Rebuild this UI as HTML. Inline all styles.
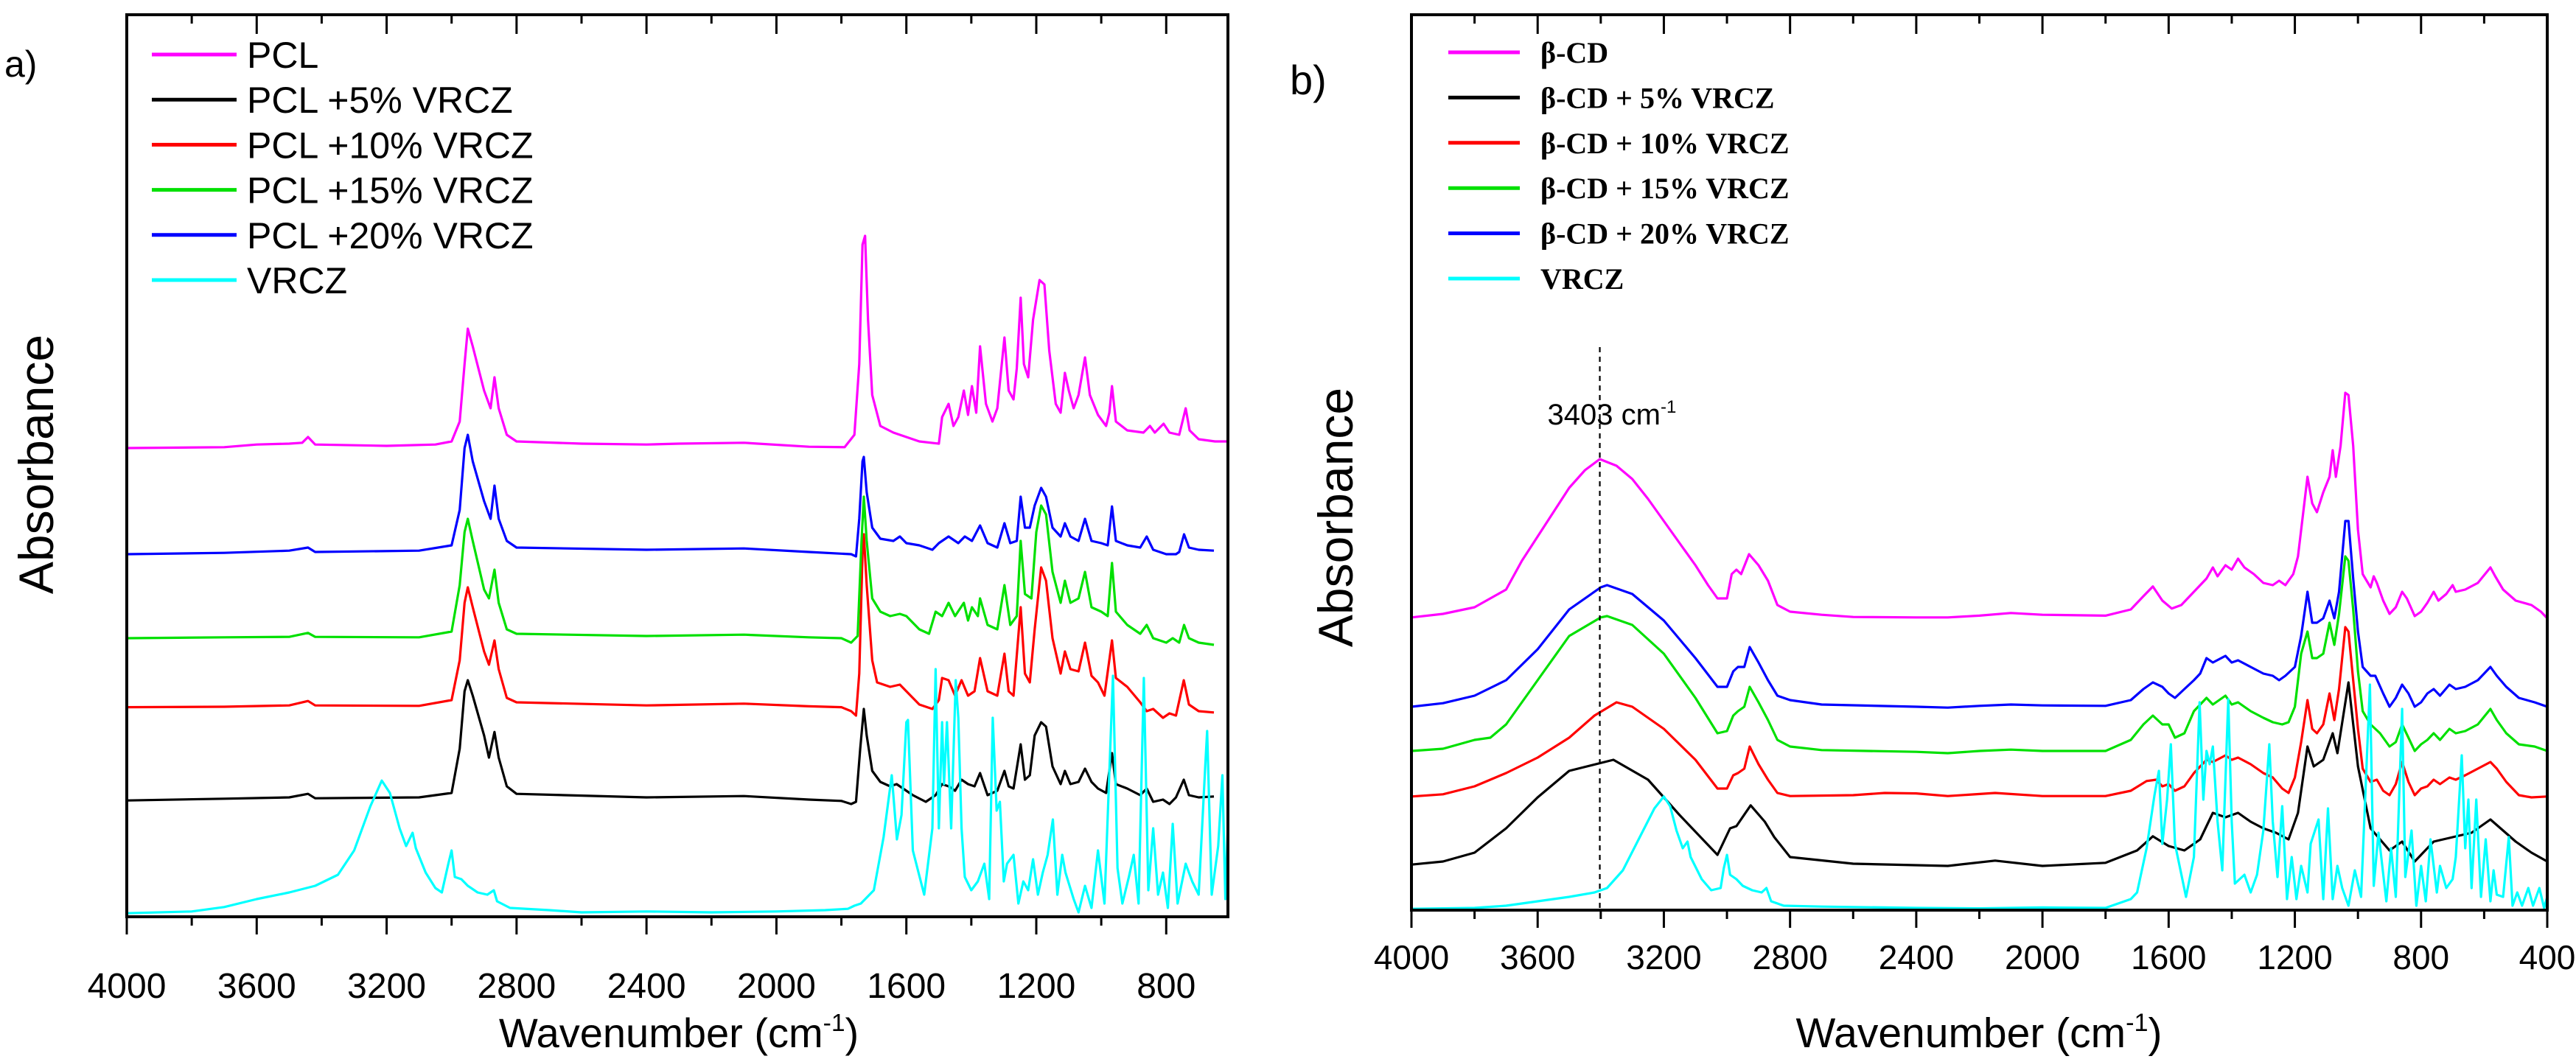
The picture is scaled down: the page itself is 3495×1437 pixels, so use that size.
<!DOCTYPE html>
<html><head><meta charset="utf-8">
<style>
html,body{margin:0;padding:0;background:#fff;}
svg{display:block;}
text{font-family:"Liberation Sans",sans-serif;fill:#000;}
.serif{font-family:"Liberation Serif",serif;font-weight:bold;}
</style></head>
<body>
<svg id="chart" width="3495" height="1437" viewBox="0 0 3495 1437" xmlns="http://www.w3.org/2000/svg">
<defs>
<clipPath id="clipA"><rect x="172" y="20" width="1494" height="1224"/></clipPath>
<clipPath id="clipB"><rect x="1915" y="20" width="1541" height="1215"/></clipPath>
</defs>
<g id="panelA"></g>
<g id="panelB"></g>
</svg>
<script>
// ---------- Panel a data: [wavenumber, absorbance(a.u.)] ----------
const ticksA = [4000,3600,3200,2800,2400,2000,1600,1200,800];
const ticksB = [4000,3600,3200,2800,2400,2000,1600,1200,800,400];
const namesA = ["PCL","PCL +5%  VRCZ","PCL +10%  VRCZ","PCL +15%  VRCZ","PCL +20%  VRCZ","VRCZ"];
const namesB = ["\u03b2-CD","\u03b2-CD + 5% VRCZ","\u03b2-CD + 10% VRCZ","\u03b2-CD + 15% VRCZ","\u03b2-CD + 20% VRCZ","VRCZ"];
const colors = ["#ff00ff","#000000","#ff0000","#00e000","#0000ff","#00ffff"];

const pclA = [[4000,10.6],[3700,10.62],[3600,10.68],[3500,10.7],[3460,10.72],[3442,10.85],[3420,10.68],[3200,10.65],[3050,10.68],[3000,10.75],[2975,11.2],[2960,12.5],[2950,13.3],[2935,12.9],[2900,11.9],[2880,11.5],[2868,12.2],[2855,11.5],[2830,10.9],[2800,10.75],[2600,10.7],[2400,10.68],[2300,10.7],[2100,10.72],[1900,10.63],[1790,10.62],[1760,10.9],[1745,12.5],[1735,15.2],[1727,15.4],[1718,13.5],[1705,11.8],[1680,11.1],[1640,10.95],[1560,10.75],[1500,10.7],[1490,11.3],[1470,11.6],[1455,11.1],[1440,11.3],[1423,11.9],[1410,11.35],[1398,12.0],[1385,11.4],[1373,12.9],[1355,11.6],[1335,11.2],[1320,11.5],[1298,13.1],[1285,11.9],[1270,11.7],[1260,12.4],[1248,14.0],[1238,12.5],[1225,12.2],[1210,13.5],[1190,14.4],[1175,14.3],[1160,12.8],[1140,11.6],[1125,11.4],[1112,12.3],[1100,11.9],[1085,11.5],[1070,11.8],[1050,12.65],[1035,11.8],[1010,11.35],[985,11.1],[975,11.4],[967,12.0],[955,11.2],[920,11.0],[870,10.95],[850,11.1],[835,10.95],[808,11.15],[790,10.95],[760,10.9],[740,11.5],[728,11.0],[700,10.8],[650,10.75],[610,10.75]];
const pcl5A = [[4000,2.63],[3700,2.67],[3500,2.7],[3442,2.78],[3420,2.68],[3100,2.7],[3000,2.8],[2975,3.8],[2960,5.1],[2950,5.35],[2935,5.0],[2900,4.1],[2885,3.6],[2868,4.18],[2855,3.6],[2830,2.95],[2800,2.78],[2400,2.7],[2100,2.73],[1900,2.65],[1800,2.62],[1770,2.55],[1755,2.6],[1742,3.8],[1731,4.7],[1722,4.1],[1705,3.3],[1680,3.05],[1650,2.95],[1630,3.0],[1610,2.9],[1580,2.75],[1540,2.6],[1510,2.75],[1490,3.0],[1470,2.95],[1450,2.85],[1430,3.1],[1410,3.0],[1390,2.95],[1373,3.25],[1350,2.75],[1320,2.85],[1298,3.3],[1285,2.95],[1270,2.9],[1248,3.9],[1235,3.1],[1220,3.2],[1205,4.1],[1185,4.4],[1170,4.3],[1150,3.4],[1125,3.0],[1112,3.3],[1095,3.0],[1070,3.05],[1050,3.35],[1030,3.05],[1010,2.9],[985,2.8],[967,3.7],[955,3.0],[920,2.9],[880,2.75],[860,2.9],[840,2.6],[810,2.65],[790,2.55],[770,2.7],[746,3.1],[730,2.75],[700,2.7],[653,2.72]];
const pcl10A = [[4000,4.74],[3700,4.75],[3500,4.78],[3442,4.88],[3420,4.78],[3100,4.77],[3000,4.9],[2975,5.8],[2960,7.1],[2950,7.45],[2935,7.0],[2900,6.0],[2885,5.7],[2868,6.25],[2855,5.6],[2830,4.95],[2800,4.85],[2400,4.78],[2100,4.82],[1900,4.76],[1800,4.74],[1770,4.65],[1755,4.55],[1745,5.5],[1735,8.2],[1731,8.65],[1722,7.5],[1705,5.8],[1690,5.3],[1650,5.2],[1620,5.25],[1600,5.1],[1560,4.8],[1520,4.7],[1500,4.9],[1490,5.4],[1470,5.35],[1450,5.0],[1430,5.35],[1410,5.0],[1390,5.1],[1373,5.85],[1350,5.1],[1320,5.0],[1298,5.95],[1285,5.1],[1270,5.0],[1248,7.0],[1235,5.5],[1220,5.3],[1205,6.5],[1185,7.9],[1170,7.6],[1150,6.3],[1125,5.5],[1112,6.0],[1095,5.6],[1070,5.55],[1050,6.2],[1030,5.45],[1010,5.3],[990,5.0],[967,6.25],[955,5.4],[920,5.2],[880,4.85],[860,4.65],[840,4.7],[810,4.5],[790,4.6],[770,4.55],[746,5.35],[730,4.8],[700,4.65],[653,4.62]];
const pcl15A = [[4000,6.3],[3700,6.32],[3500,6.33],[3442,6.42],[3420,6.33],[3100,6.32],[3000,6.45],[2975,7.5],[2960,8.7],[2950,9.0],[2935,8.5],[2900,7.4],[2885,7.2],[2868,7.85],[2855,7.1],[2830,6.5],[2800,6.4],[2400,6.35],[2100,6.38],[1900,6.32],[1800,6.3],[1770,6.2],[1750,6.35],[1738,8.5],[1731,9.5],[1722,8.5],[1705,7.2],[1680,6.9],[1650,6.8],[1620,6.85],[1600,6.8],[1560,6.5],[1530,6.4],[1510,6.9],[1490,6.8],[1470,7.1],[1450,6.8],[1423,7.1],[1410,6.7],[1398,7.0],[1380,6.8],[1373,7.2],[1350,6.6],[1320,6.5],[1298,7.5],[1280,6.6],[1260,6.8],[1248,8.5],[1235,7.3],[1215,7.2],[1200,8.7],[1185,9.3],[1170,9.1],[1150,7.8],[1125,7.1],[1112,7.6],[1095,7.1],[1070,7.2],[1050,7.8],[1030,7.0],[1000,6.9],[980,6.8],[967,8.0],[955,6.9],[920,6.6],[880,6.4],[860,6.6],[840,6.3],[800,6.2],[780,6.3],[760,6.2],[745,6.6],[730,6.3],[700,6.2],[653,6.15]];
const pcl20A = [[4000,8.2],[3700,8.23],[3500,8.28],[3442,8.35],[3420,8.25],[3100,8.28],[3000,8.4],[2975,9.2],[2960,10.6],[2950,10.9],[2935,10.3],[2900,9.4],[2880,9.0],[2868,9.75],[2855,9.0],[2830,8.5],[2800,8.35],[2400,8.3],[2100,8.33],[1900,8.25],[1770,8.2],[1755,8.15],[1745,9.0],[1735,10.3],[1731,10.4],[1722,9.6],[1705,8.8],[1680,8.55],[1640,8.5],[1620,8.6],[1600,8.45],[1560,8.4],[1520,8.3],[1500,8.45],[1470,8.6],[1440,8.45],[1420,8.6],[1398,8.5],[1373,8.85],[1350,8.45],[1320,8.35],[1298,8.9],[1280,8.45],[1260,8.5],[1248,9.5],[1235,8.8],[1220,8.8],[1205,9.3],[1185,9.7],[1170,9.5],[1150,8.8],[1125,8.6],[1112,8.9],[1095,8.6],[1070,8.5],[1050,9.0],[1030,8.5],[1000,8.45],[980,8.4],[967,9.28],[955,8.5],[920,8.4],[880,8.35],[860,8.6],[840,8.3],[800,8.2],[770,8.2],[760,8.25],[745,8.65],[730,8.35],[700,8.3],[653,8.28]];
const vrczA = [[4000,0.08],[3800,0.12],[3700,0.22],[3600,0.4],[3500,0.55],[3420,0.7],[3350,0.95],[3300,1.5],[3250,2.5],[3215,3.08],[3190,2.8],[3160,2.0],[3140,1.6],[3120,1.9],[3110,1.55],[3080,1.0],[3050,0.65],[3030,0.55],[3010,1.2],[3000,1.5],[2990,0.9],[2970,0.85],[2950,0.7],[2920,0.55],[2890,0.5],[2870,0.6],[2860,0.35],[2820,0.2],[2700,0.15],[2600,0.1],[2400,0.12],[2200,0.1],[2000,0.12],[1850,0.15],[1780,0.18],[1760,0.25],[1740,0.3],[1700,0.6],[1670,1.8],[1645,3.2],[1629,1.75],[1615,2.3],[1600,4.4],[1595,4.45],[1580,1.5],[1545,0.5],[1520,2.0],[1510,5.6],[1500,2.0],[1490,4.4],[1484,3.0],[1475,4.4],[1462,2.0],[1448,5.35],[1440,4.5],[1430,2.0],[1420,0.9],[1400,0.6],[1380,0.8],[1360,1.2],[1345,0.4],[1334,4.5],[1322,2.4],[1312,2.6],[1300,0.8],[1290,1.2],[1270,1.4],[1255,0.3],[1240,0.8],[1225,0.6],[1210,1.3],[1195,0.5],[1180,1.0],[1165,1.4],[1149,2.2],[1135,0.5],[1120,1.4],[1110,1.0],[1085,0.4],[1070,0.1],[1050,0.7],[1030,0.2],[1010,1.5],[990,0.3],[964,5.45],[950,1.1],[935,0.3],[915,0.9],[900,1.4],[885,0.3],[869,5.4],[855,0.6],[840,2.0],[825,0.5],[810,1.0],[795,0.2],[780,2.1],[765,0.3],[740,1.2],[720,0.8],[700,0.5],[680,3.4],[674,4.2],[660,0.5],[640,1.6],[627,3.2],[618,0.4],[610,2.1]];

// ---------- Panel b data ----------
const bcdB = [[4000,6.62],[3900,6.7],[3800,6.85],[3700,7.25],[3650,7.9],[3600,8.45],[3500,9.55],[3450,9.95],[3403,10.2],[3350,10.05],[3300,9.75],[3250,9.3],[3200,8.8],[3150,8.3],[3100,7.8],[3060,7.35],[3030,7.05],[3000,7.05],[2985,7.6],[2970,7.7],[2955,7.6],[2930,8.05],[2900,7.8],[2870,7.45],[2840,6.9],[2800,6.75],[2700,6.68],[2600,6.63],[2400,6.62],[2300,6.62],[2200,6.66],[2100,6.72],[2000,6.68],[1800,6.66],[1720,6.8],[1680,7.1],[1650,7.32],[1620,7.0],[1590,6.82],[1560,6.9],[1520,7.2],[1480,7.5],[1460,7.75],[1445,7.55],[1420,7.8],[1400,7.7],[1380,7.95],[1360,7.75],[1330,7.6],[1300,7.4],[1270,7.35],[1250,7.45],[1230,7.35],[1205,7.6],[1190,8.0],[1170,9.2],[1160,9.8],[1145,9.2],[1130,9.0],[1110,9.45],[1090,9.8],[1080,10.4],[1070,9.8],[1055,10.5],[1040,11.7],[1030,11.65],[1015,10.5],[1000,8.6],[985,7.6],[960,7.3],[950,7.55],[940,7.4],[920,7.0],[900,6.7],[880,6.85],[860,7.2],[845,7.05],[820,6.65],[800,6.75],[780,6.95],[760,7.2],[745,7.0],[720,7.15],[700,7.35],[690,7.2],[660,7.25],[620,7.4],[580,7.75],[565,7.55],[540,7.25],[500,7.0],[450,6.9],[420,6.75],[400,6.6]];
const bcd5B = [[4000,1.03],[3900,1.1],[3800,1.3],[3700,1.85],[3600,2.55],[3500,3.15],[3360,3.4],[3250,2.95],[3150,2.15],[3030,1.25],[2990,1.85],[2970,1.9],[2925,2.37],[2880,2.0],[2850,1.65],[2800,1.2],[2600,1.05],[2300,1.0],[2150,1.12],[2000,1.0],[1800,1.07],[1700,1.35],[1650,1.67],[1600,1.45],[1550,1.35],[1500,1.6],[1460,2.2],[1420,2.1],[1380,2.2],[1340,2.0],[1300,1.85],[1260,1.75],[1220,1.6],[1190,2.2],[1160,3.7],[1140,3.25],[1110,3.4],[1080,4.0],[1065,3.55],[1030,5.15],[1000,3.25],[960,1.85],[900,1.35],[860,1.55],[820,1.1],[760,1.55],[700,1.65],[640,1.75],[580,2.05],[540,1.8],[500,1.55],[450,1.3],[400,1.1]];
const bcd10B = [[4000,2.57],[3900,2.62],[3800,2.8],[3700,3.1],[3600,3.45],[3500,3.9],[3420,4.4],[3350,4.7],[3300,4.6],[3200,4.1],[3100,3.4],[3030,2.75],[3000,2.75],[2980,3.05],[2965,3.1],[2945,3.2],[2928,3.7],[2900,3.3],[2870,2.95],[2840,2.65],[2800,2.58],[2600,2.6],[2500,2.65],[2400,2.64],[2300,2.58],[2150,2.65],[2000,2.58],[1800,2.58],[1720,2.7],[1670,2.92],[1640,2.95],[1620,2.8],[1600,2.85],[1580,2.7],[1550,2.8],[1520,3.1],[1480,3.4],[1460,3.35],[1420,3.5],[1400,3.4],[1380,3.45],[1340,3.3],[1300,3.1],[1270,3.0],[1240,2.75],[1220,2.65],[1200,3.0],[1180,3.8],[1160,4.75],[1145,4.1],[1130,4.0],[1110,4.2],[1090,4.9],[1075,4.3],[1060,5.0],[1040,6.4],[1030,6.3],[1015,5.2],[1000,4.1],[985,3.2],[960,2.9],[940,2.95],[920,2.7],[900,2.6],[880,2.85],[860,3.35],[840,2.9],[820,2.6],[800,2.75],[780,2.8],[760,2.95],[740,2.85],[710,3.0],[690,2.95],[660,3.05],[620,3.2],[580,3.35],[560,3.2],[530,2.9],[490,2.6],[450,2.55],[400,2.57]];
const bcd15B = [[4000,3.6],[3900,3.65],[3800,3.85],[3750,3.9],[3700,4.2],[3600,5.2],[3500,6.2],[3400,6.62],[3380,6.65],[3300,6.45],[3200,5.8],[3100,4.8],[3030,4.0],[3000,4.05],[2980,4.4],[2965,4.5],[2945,4.6],[2928,5.05],[2900,4.7],[2870,4.3],[2840,3.85],[2800,3.7],[2700,3.62],[2400,3.58],[2300,3.55],[2200,3.6],[2100,3.63],[2000,3.6],[1800,3.6],[1720,3.85],[1680,4.2],[1650,4.4],[1620,4.2],[1600,4.2],[1580,3.9],[1550,4.0],[1520,4.5],[1480,4.8],[1460,4.65],[1420,4.85],[1400,4.65],[1380,4.7],[1340,4.5],[1300,4.35],[1270,4.25],[1240,4.2],[1220,4.25],[1200,4.6],[1180,5.8],[1160,6.3],[1145,5.7],[1130,5.7],[1110,5.8],[1090,6.5],[1075,6.0],[1060,6.7],[1040,8.0],[1030,7.9],[1015,6.8],[1000,5.4],[985,4.5],[960,4.2],[930,4.0],[900,3.7],[880,3.8],[860,4.2],[840,3.9],[820,3.6],[800,3.75],[780,3.85],[760,4.0],[740,3.85],[710,4.1],[690,4.0],[660,4.05],[620,4.2],[580,4.55],[560,4.3],[530,4.0],[490,3.75],[440,3.7],[400,3.6]];
const bcd20B = [[4000,4.6],[3900,4.68],[3800,4.85],[3700,5.2],[3600,5.9],[3500,6.8],[3400,7.3],[3380,7.35],[3300,7.15],[3200,6.55],[3100,5.7],[3030,5.05],[3000,5.05],[2980,5.4],[2965,5.5],[2945,5.5],[2928,5.95],[2900,5.6],[2870,5.2],[2840,4.85],[2800,4.75],[2700,4.65],[2400,4.6],[2300,4.58],[2200,4.62],[2100,4.65],[2000,4.63],[1800,4.62],[1720,4.75],[1680,5.0],[1650,5.15],[1620,5.05],[1600,4.9],[1580,4.8],[1550,5.0],[1520,5.2],[1500,5.35],[1480,5.7],[1460,5.6],[1420,5.75],[1400,5.6],[1380,5.65],[1340,5.5],[1300,5.35],[1270,5.3],[1250,5.2],[1230,5.3],[1200,5.5],[1180,6.2],[1160,7.2],[1145,6.5],[1130,6.5],[1110,6.6],[1090,7.0],[1075,6.6],[1060,7.2],[1040,8.8],[1030,8.8],[1015,7.5],[1000,6.3],[985,5.5],[960,5.3],[945,5.3],[920,4.9],[900,4.6],[880,4.8],[860,5.1],[840,4.9],[820,4.6],[800,4.7],[780,4.9],[760,5.0],[740,4.85],[710,5.1],[690,5.0],[660,5.05],[620,5.2],[580,5.5],[560,5.3],[530,5.05],[490,4.8],[440,4.7],[400,4.6]];
const vrczB = [[4000,0.03],[3800,0.05],[3700,0.1],[3600,0.2],[3500,0.3],[3420,0.4],[3380,0.5],[3330,0.9],[3280,1.6],[3230,2.3],[3200,2.57],[3180,2.35],[3160,1.8],[3140,1.4],[3125,1.55],[3115,1.2],[3080,0.7],[3050,0.45],[3020,0.5],[3010,0.95],[3000,1.25],[2990,0.8],[2970,0.7],[2950,0.55],[2920,0.45],[2890,0.4],[2875,0.5],[2860,0.2],[2820,0.1],[2700,0.08],[2400,0.05],[2200,0.04],[2000,0.06],[1800,0.05],[1760,0.15],[1720,0.25],[1700,0.4],[1670,1.4],[1645,2.6],[1631,3.15],[1620,1.5],[1605,2.5],[1593,3.75],[1580,1.5],[1545,0.3],[1520,1.2],[1502,4.7],[1490,2.5],[1480,3.6],[1470,3.3],[1460,3.7],[1445,2.0],[1430,0.9],[1411,4.77],[1400,2.0],[1390,0.6],[1360,0.8],[1340,0.4],[1320,0.8],[1300,1.8],[1281,3.75],[1270,2.0],[1255,0.75],[1240,2.35],[1225,0.25],[1210,1.2],[1195,0.25],[1180,1.0],[1160,0.4],[1150,1.5],[1125,2.05],[1110,0.25],[1095,2.3],[1080,0.25],[1065,1.0],[1050,0.5],[1030,0.1],[1010,0.9],[990,0.3],[962,5.1],[950,0.55],[935,1.75],[910,0.2],[895,1.4],[880,0.3],[860,4.55],[850,0.75],[830,1.8],[815,0.1],[800,1.0],[785,0.2],[770,1.6],[750,0.4],[740,1.0],[720,0.5],[700,0.7],[690,1.2],[671,3.5],[660,1.4],[650,2.5],[640,0.5],[625,2.5],[610,0.3],[595,1.6],[580,0.2],[570,0.9],[560,0.35],[540,0.3],[522,1.65],[510,0.1],[495,0.4],[480,0.1],[460,0.5],[445,0.1],[425,0.5],[410,0.05],[400,0.3]];
const markerB = 3403;

const NS = "http://www.w3.org/2000/svg";
function mk(parent, tag, attrs, text) {
  const e = document.createElementNS(NS, tag);
  for (const k in attrs) e.setAttribute(k, attrs[k]);
  if (text !== undefined) e.textContent = text;
  parent.appendChild(e);
  return e;
}

function drawPanel(g, cfg) {
  const xs = w => cfg.x0 + (cfg.wMax - w) / (cfg.wMax - cfg.wMin) * (cfg.x1 - cfg.x0);
  const ys = a => cfg.yb - a / cfg.aMax * (cfg.yb - cfg.yt);
  const sg = mk(g, "g", {"clip-path": cfg.clip});
  
  
  cfg.series.forEach((s, i) => {
    const pts = s.data.map(p => xs(p[0]).toFixed(1) + "," + ys(p[1]).toFixed(1)).join(" ");
    const pl = mk(sg, "polyline", {points: pts, fill: "none", stroke: s.color, "stroke-width": 3.2, "stroke-linejoin": "round"});
    
    
  });
  const fr = mk(g, "rect", {x: cfg.x0, y: cfg.yt, width: cfg.x1 - cfg.x0, height: cfg.yb - cfg.yt, fill: "none", stroke: "#000", "stroke-width": 4});
  
  
  for (let w = 4000; w >= cfg.wMin - 1; w -= 200) {
    const major = (w % 400 === 0);
    const x = xs(w);
    const tb = mk(g, "line", {x1: x, x2: x, y1: cfg.yb, y2: cfg.yb + (major ? 24 : 12), stroke: "#000", "stroke-width": 3});
    
    
    const tt = mk(g, "line", {x1: x, x2: x, y1: cfg.yt, y2: cfg.yt + (major ? 26 : 12), stroke: "#000", "stroke-width": 3});
    
    
  }
  cfg.ticks.forEach(t => {
    const tl = mk(g, "text", {x: xs(t), y: cfg.tickY, "text-anchor": "middle", "font-size": cfg.tickFs}, String(t));
    
    
  });
  const at = mk(g, "text", {x: cfg.titleX, y: 1421, "text-anchor": "middle", "font-size": cfg.titleFs});
  
  
  mk(at, "tspan", {}, "Wavenumber (cm");
  mk(at, "tspan", {dy: -22, "font-size": cfg.titleFs * 0.6}, "-1");
  mk(at, "tspan", {dy: 22}, ")");
  const yt = mk(g, "text", {x: cfg.yTitleX, y: cfg.yTitleY, "text-anchor": "middle", "font-size": 66, transform: "rotate(-90 " + cfg.yTitleX + " " + cfg.yTitleY + ")"}, "Absorbance");
  
  
  const pl = mk(g, "text", {x: cfg.labX, y: cfg.labY, "font-size": cfg.labFs}, cfg.label);
  
  
  const lg = mk(g, "g", {});
  
  
  cfg.legend.forEach((it, i) => {
    const cy = cfg.legY0 + i * cfg.legDy;
    const ln = mk(lg, "line", {x1: cfg.legX1, x2: cfg.legX2, y1: cy, y2: cy, stroke: it.color, "stroke-width": 5});
    
    
    const tx = mk(lg, "text", {x: cfg.legTX, y: cy + cfg.legBase, "font-size": cfg.legFs, "class": cfg.legClass, "xml:space": "preserve"}, it.name);
    
    
  });
  return {xs, ys};
}

const gA = document.getElementById("panelA");
drawPanel(gA, {
  x0: 172, x1: 1666, yt: 20, yb: 1244, wMax: 4000, wMin: 610, aMax: 20.4, clip: "url(#clipA)",
  series: [
    {key: "pcl", data: pclA, color: colors[0]},
    {key: "pcl-5-vrcz", data: pcl5A, color: colors[1]},
    {key: "pcl-10-vrcz", data: pcl10A, color: colors[2]},
    {key: "pcl-15-vrcz", data: pcl15A, color: colors[3]},
    {key: "pcl-20-vrcz", data: pcl20A, color: colors[4]},
    {key: "vrcz", data: vrczA, color: colors[5]}
  ],
  ticks: ticksA, tickY: 1354, tickFs: 48, titleX: 921, titleFs: 56,
  yTitleX: 72, yTitleY: 630, label: "a)", labX: 6, labY: 104, labFs: 50,
  legend: namesA.map((n, i) => ({name: n, color: colors[i]})),
  legY0: 74, legDy: 61.2, legX1: 206, legX2: 321, legTX: 335, legBase: 18, legFs: 50, legClass: ""
});

const gB = document.getElementById("panelB");
const sB = drawPanel(gB, {
  x0: 1915, x1: 3456, yt: 20, yb: 1235, wMax: 4000, wMin: 400, aMax: 20.25, clip: "url(#clipB)",
  series: [
    {key: "beta-cd", data: bcdB, color: colors[0]},
    {key: "beta-cd-5-vrcz", data: bcd5B, color: colors[1]},
    {key: "beta-cd-10-vrcz", data: bcd10B, color: colors[2]},
    {key: "beta-cd-15-vrcz", data: bcd15B, color: colors[3]},
    {key: "beta-cd-20-vrcz", data: bcd20B, color: colors[4]},
    {key: "vrcz", data: vrczB, color: colors[5]}
  ],
  ticks: ticksB, tickY: 1315, tickFs: 46, titleX: 2685, titleFs: 57,
  yTitleX: 1835, yTitleY: 702, label: "b)", labX: 1750, labY: 128, labFs: 56,
  legend: namesB.map((n, i) => ({name: n, color: colors[i]})),
  legY0: 71, legDy: 61.4, legX1: 1965, legX2: 2062, legTX: 2090, legBase: 14, legFs: 40, legClass: "serif"
});

const mx = sB.xs(markerB);
const dl = mk(gB, "line", {x1: mx, x2: mx, y1: 471, y2: 1235, stroke: "#000", "stroke-width": 2.2, "stroke-dasharray": "7 6"});


const ml = mk(gB, "text", {x: mx - 71, y: 576, "font-size": 40});


mk(ml, "tspan", {}, markerB + " cm");
mk(ml, "tspan", {dy: -16, "font-size": 24}, "-1");
</script>
</body></html>
